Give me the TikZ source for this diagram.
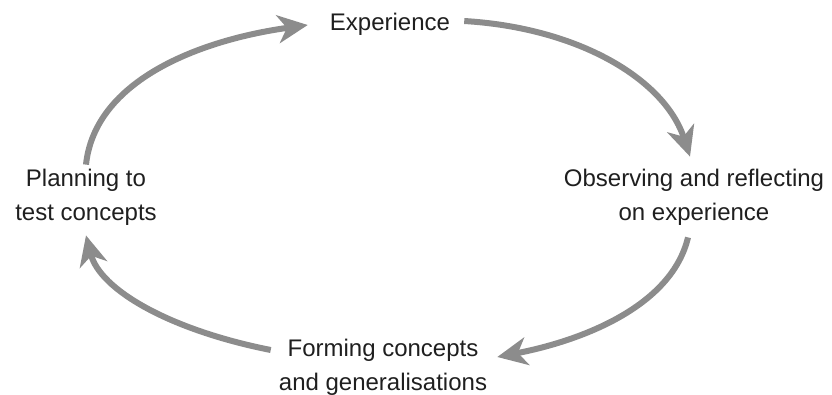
\documentclass[tikz,border=0pt]{standalone}
\usepackage{fontspec}
\setmainfont{Liberation Sans}
\usetikzlibrary{arrows.meta}
\begin{document}
\begin{tikzpicture}[x=1pt,y=-1pt,
  lbl/.style={font=\fontsize{24}{34}\selectfont, text=black!88, align=center, inner sep=0pt},
  cyc/.style={draw=black!45, line width=6pt, -{Stealth[length=30pt,width=28pt,inset=9pt]}}]
\useasboundingbox (0,0) rectangle (832,394);
\node[lbl] (exp) at (390,24) {Experience};
\node[lbl] (obs) at (694,197) {Observing and reflecting\\on experience};
\node[lbl] (form) at (383,367) {Forming concepts\\and generalisations};
\node[lbl] (plan) at (86,197) {Planning to\\test concepts};
\draw[cyc] ([yshift=4pt]plan.north) .. controls (95,80) and (200,40) .. ([xshift=-22pt,yshift=-1pt]exp.west);
\draw[cyc] ([xshift=14pt,yshift=3pt]exp.east) .. controls (580,28) and (665,80) .. ([xshift=-4pt,yshift=12pt]obs.north);
\draw[cyc] ([xshift=-6pt,yshift=-12pt]obs.south) .. controls (672,305) and (585,340) .. ([xshift=10pt,yshift=10pt]form.east);
\draw[cyc] ([xshift=-8pt,yshift=17pt]form.west) .. controls (170,330) and (100,290) .. ([yshift=-10pt]plan.south);
\end{tikzpicture}
\end{document}
